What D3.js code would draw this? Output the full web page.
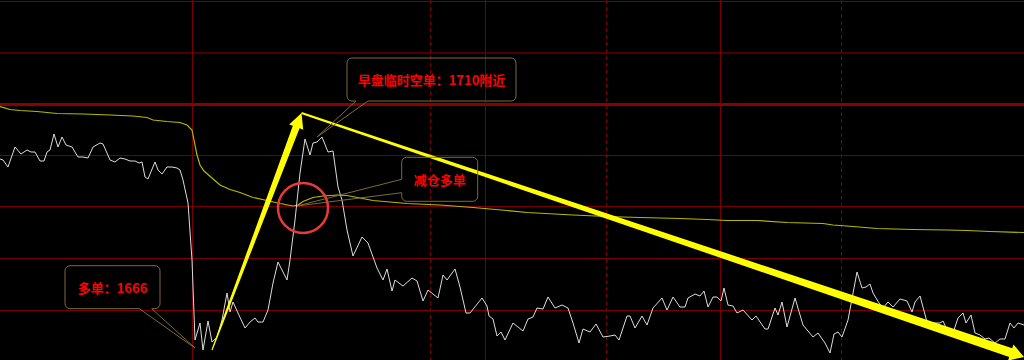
<!DOCTYPE html>
<html><head><meta charset="utf-8">
<script src="https://cdn.jsdelivr.net/npm/d3@7"></script>
<style>html,body{margin:0;padding:0;background:#000;overflow:hidden}</style>
</head><body><svg id="c" width="1024" height="360"></svg>
<script>
// ---- data (time index, price) ----
const priceSeries = [
[0,1706.2],[0.6,1706.0],[1.6,1704.6],[3.0,1708.6],[4.2,1707.2],[5.4,1708.0],[6.2,1707.6],[7.0,1707.6],
[8.0,1705.8],[8.8,1705.8],[9.4,1707.6],[10.0,1708.0],[10.8,1711.2],[11.6,1708.6],[12.4,1710.6],[13.2,1709.0],
[14.4,1708.6],[15.6,1706.6],[16.6,1706.6],[17.6,1706.4],[18.6,1708.6],[20.0,1709.4],[20.6,1709.2],[21.4,1707.4],
[22.0,1706.0],[23.0,1705.6],[24.0,1706.4],[25.0,1706.2],[26.0,1705.8],[27.0,1705.8],[27.8,1705.4],[28.4,1705.6],
[29.0,1702.6],[29.6,1702.2],[31.0,1705.6],[31.6,1704.0],[32.4,1703.2],[33.4,1704.6],[34.4,1704.6],[35.4,1704.4],
[36.0,1704.0],[36.6,1702.0],[37.6,1697.4],[38.4,1686.0],[39.0,1670.0],[40.0,1673.4],[40.6,1668.0],[41.6,1673.8],
[42.4,1669.6],[43.4,1670.6],[44.4,1674.0],[45.4,1679.4],[46.0,1675.6],[46.6,1677.6],[47.6,1675.4],[49.0,1672.4],
[50.0,1673.6],[51.0,1674.4],[51.6,1673.6],[52.6,1673.6],[53.6,1676.0],[54.6,1681.4],[55.6,1685.6],[57.4,1682.0],
[58.0,1686.0],[59.0,1694.0],[60.0,1703.4],[61.0,1710.2],[62.0,1707.0],[62.6,1709.4],[63.4,1709.6],[64.4,1710.6],
[65.6,1707.6],[66.6,1707.8],[67.6,1700.6],[68.4,1698.0],[69.4,1692.0],[70.6,1686.8],[72.4,1690.6],[73.6,1689.4],
[75.4,1684.4],[76.6,1682.0],[77.4,1684.2],[78.4,1679.8],[79.0,1682.0],[80.6,1680.8],[82.4,1682.4],[83.4,1681.8],
[84.6,1677.8],[85.6,1680.0],[87.6,1678.4],[88.6,1683.0],[89.4,1682.0],[91.0,1684.2],[92.0,1680.6],[93.2,1675.4],
[94.0,1675.4],[96.4,1678.4],[97.4,1676.8],[97.8,1674.8],[98.6,1674.2],[99.4,1670.8],[100.2,1671.6],[101.0,1670.0],
[102.6,1673.4],[104.6,1671.8],[105.6,1674.2],[106.6,1674.6],[107.4,1676.4],[108.6,1676.2],[109.6,1678.6],[111.0,1676.4],
[112.4,1677.0],[113.6,1676.4],[114.6,1673.4],[115.8,1669.4],[116.6,1672.2],[118.0,1671.6],[119.2,1673.2],[120.6,1670.6],
[122.0,1670.8],[123.0,1671.0],[123.8,1670.0],[125.4,1674.8],[126.0,1674.8],[127.0,1672.4],[128.4,1674.8],[129.4,1673.0],
[130.6,1676.4],[132.4,1678.4],[133.4,1676.0],[134.6,1678.6],[136.0,1676.6],[137.0,1676.6],[137.6,1678.4],[139.0,1679.2],
[140.0,1678.8],[140.8,1679.8],[141.6,1676.6],[142.6,1678.6],[143.4,1678.6],[144.2,1677.8],[144.8,1680.4],[145.6,1677.0],
[146.6,1676.8],[147.4,1675.4],[148.6,1676.0],[150.4,1674.0],[151.2,1674.8],[153.0,1672.2],[153.6,1672.2],[155.0,1676.4],
[155.6,1675.0],[156.4,1677.6],[157.4,1672.6],[159.0,1678.4],[160.6,1673.0],[162.6,1670.6],[163.6,1671.4],[165.0,1669.4],
[166.0,1667.4],[166.8,1671.2],[167.6,1671.6],[168.4,1670.6],[169.6,1674.0],[171.4,1683.6],[172.4,1680.4],[173.2,1680.6],
[174.0,1681.2],[174.6,1679.4],[175.8,1677.4],[176.6,1676.4],[177.6,1677.6],[178.6,1676.6],[180.0,1678.2],[181.4,1677.8],
[182.4,1675.6],[183.0,1677.6],[184.0,1678.8],[185.4,1673.6],[186.4,1673.4],[188.0,1673.4],[188.6,1673.8],[189.6,1671.6],
[190.6,1671.4],[191.6,1674.4],[192.6,1675.4],[193.2,1673.4],[194.2,1675.0],[195.0,1671.4],[196.0,1671.0],[197.0,1670.2],
[197.8,1670.4],[199.0,1669.4],[200.0,1670.2],[201.0,1670.2],[202.0,1673.4],[202.8,1672.4],[203.6,1673.4],[204.8,1673.0]
];
const avgSeries = [
[0,1716.7],[2,1716.1],[4,1715.9],[7.4,1715.7],[11.4,1715.3],[16.6,1715.2],[22,1715.0],[26.6,1714.8],[29.4,1714.5],
[30.6,1714.0],[33.4,1713.7],[36,1713.5],[37.4,1713.0],[38.4,1712.0],[38.8,1710.0],[39.4,1707.0],[40,1705.0],[40.8,1703.8],
[42.4,1702.4],[44,1701.0],[46,1700.1],[48,1699.5],[50.6,1698.5],[53.4,1697.9],[56,1697.3],[58.6,1696.8],[59.6,1697.0],
[60.6,1697.7],[62.6,1698.5],[64.6,1698.8],[67.4,1699.0],[69.4,1698.9],[74.6,1697.9],[81.4,1697.3],[88,1697.0],[94.6,1696.5],
[101.4,1695.9],[105.4,1695.5],[114.6,1695.0],[121.4,1694.7],[128,1694.5],[136,1694.3],[141.4,1694.1],[145.4,1693.9],
[151.4,1693.9],[157.4,1693.5],[164.6,1693.3],[166.6,1693.0],[170.6,1692.7],[175.4,1692.3],[182.6,1692.1],[189.4,1692.0],
[193.4,1691.9],[198,1691.7],[204.8,1691.5]
];
const gridLevels = [1737.8, 1727.5, 1717.1, 1706.9, 1696.7, 1686.3, 1676.0];
const solidTimes = [38.5, 97.1, 144.1];
const dashedTimes = [86.1, 121.3, 168.3];
const calloutLabels = ["早盘临时空单：1710附近", "减仓多单", "多单：1666"];
const calloutTips = [[63.4, 1710.6], [59.4, 1696.8], [39.0, 1668.4]];
const arrowSegments = [[42.4, 1668.0, 60.3, 1715.4], [60.3, 1715.4, 204.8, 1666.6]];
const circleMark = [60.6, 1696.4];

// ---- drawing ----
const W = 1024, H = 360;
const svg = d3.select("#c");
svg.append("rect").attr("width", W).attr("height", H).attr("fill", "#000");
const x = d3.scaleLinear().domain([0, 204.8]).range([0, W]);
const y = d3.scaleLinear().domain([1738, 1666]).range([0, H]);

const grid = svg.append("g").attr("shape-rendering", "crispEdges");
grid.selectAll("line.h").data(gridLevels).join("line")
  .attr("x1", 0).attr("x2", W)
  .attr("y1", d => y(d)).attr("y2", d => y(d))
  .attr("stroke", (d, i) => i === 1 ? "#4a0000" : (i === 2 ? "#8c0000" : "#7a0000"))
  .attr("stroke-width", (d, i) => i === 1 ? 2 : (i === 2 ? 3 : 1));
grid.selectAll("line.vs").data(solidTimes).join("line")
  .attr("x1", d => x(d)).attr("x2", d => x(d)).attr("y1", 0).attr("y2", H)
  .attr("stroke", "#7a0000").attr("stroke-width", 1);
grid.append("g").selectAll("line").data(dashedTimes).join("line")
  .attr("x1", d => x(d)).attr("x2", d => x(d)).attr("y1", 0).attr("y2", H)
  .attr("stroke", "#7a0000").attr("stroke-width", 1).attr("stroke-dasharray", "4,3");

const line = d3.line().x(d => x(d[0])).y(d => y(d[1]));
svg.append("path").datum(avgSeries).attr("d", line)
  .attr("fill", "none").attr("stroke", "#b8b800").attr("stroke-width", 1.2);
svg.append("path").datum(priceSeries).attr("d", line)
  .attr("fill", "none").attr("stroke", "#dcdcdc").attr("stroke-width", 1);

// tapered arrows
function taperArrow(x0, y0, x1, y1, w0, w1, hw, hl) {
  const dx = x1 - x0, dy = y1 - y0, L = Math.hypot(dx, dy);
  const ux = dx / L, uy = dy / L, px = -uy, py = ux;
  const bx = x1 - ux * hl, by = y1 - uy * hl;
  return [[x0 + px * w0, y0 + py * w0], [bx + px * w1, by + py * w1], [bx + px * hw, by + py * hw],
    [x1, y1], [bx - px * hw, by - py * hw], [bx - px * w1, by - py * w1], [x0 - px * w0, y0 - py * w0]];
}
const arrowStyle = [[0.6, 3.6, 7.5, 15], [1.0, 4.6, 8.5, 14]];
svg.append("g").selectAll("polygon").data(arrowSegments).join("polygon")
  .attr("points", (d, i) => taperArrow(x(d[0]), y(d[1]), x(d[2]), y(d[3]), ...arrowStyle[i]).map(p => p.join(",")).join(" "))
  .attr("fill", "#ffff00");

// callouts (box offsets relative to tip, in px)
const calloutLayout = [
  {dx: 30, dy: -79, w: 169, h: 43, side: "bottom", a: 9, b: 21},
  {dx: 104.7, dy: -48.7, w: 76, h: 44, side: "left", a: 22, b: 35.4},
  {dx: -130, dy: -82.3, w: 95, h: 43, side: "bottom", a: 74.3, b: 86.7}
];
function calloutPath(tx, ty, o) {
  const bx = tx + o.dx, by = ty + o.dy, w = o.w, h = o.h, r = 5;
  const A = (ex, ey) => `A${r},${r} 0 0 1 ${ex},${ey}`;
  if (o.side === "bottom") {
    return `M${bx + r},${by} H${bx + w - r} ${A(bx + w, by + r)} V${by + h - r} ${A(bx + w - r, by + h)} H${bx + o.b} L${tx},${ty} L${bx + o.a},${by + h} H${bx + r} ${A(bx, by + h - r)} V${by + r} ${A(bx + r, by)} Z`;
  }
  return `M${bx + r},${by} H${bx + w - r} ${A(bx + w, by + r)} V${by + h - r} ${A(bx + w - r, by + h)} H${bx + r} ${A(bx, by + h - r)} V${by + o.b} L${tx},${ty} L${bx},${by + o.a} V${by + r} ${A(bx + r, by)} Z`;
}
const cg = svg.append("g");
calloutLabels.forEach((label, i) => {
  const tx = x(calloutTips[i][0]), ty = y(calloutTips[i][1]);
  const o = calloutLayout[i];
  cg.append("path").attr("d", calloutPath(tx, ty, o))
    .attr("fill", "none").attr("stroke", "#7d6b3c").attr("stroke-width", 1);
  cg.append("text").attr("x", tx + o.dx + o.w / 2).attr("y", ty + o.dy + o.h / 2)
    .attr("text-anchor", "middle").attr("dominant-baseline", "central")
    .attr("font-family", "'Noto Sans CJK SC', sans-serif").attr("font-weight", "bold")
    .attr("font-size", 13).attr("fill", "#ff0000").text(label);
});

svg.append("circle").attr("cx", x(circleMark[0])).attr("cy", y(circleMark[1])).attr("r", 25)
  .attr("fill", "none").attr("stroke", "#e83a3a").attr("stroke-width", 2.5);
</script></body></html>
